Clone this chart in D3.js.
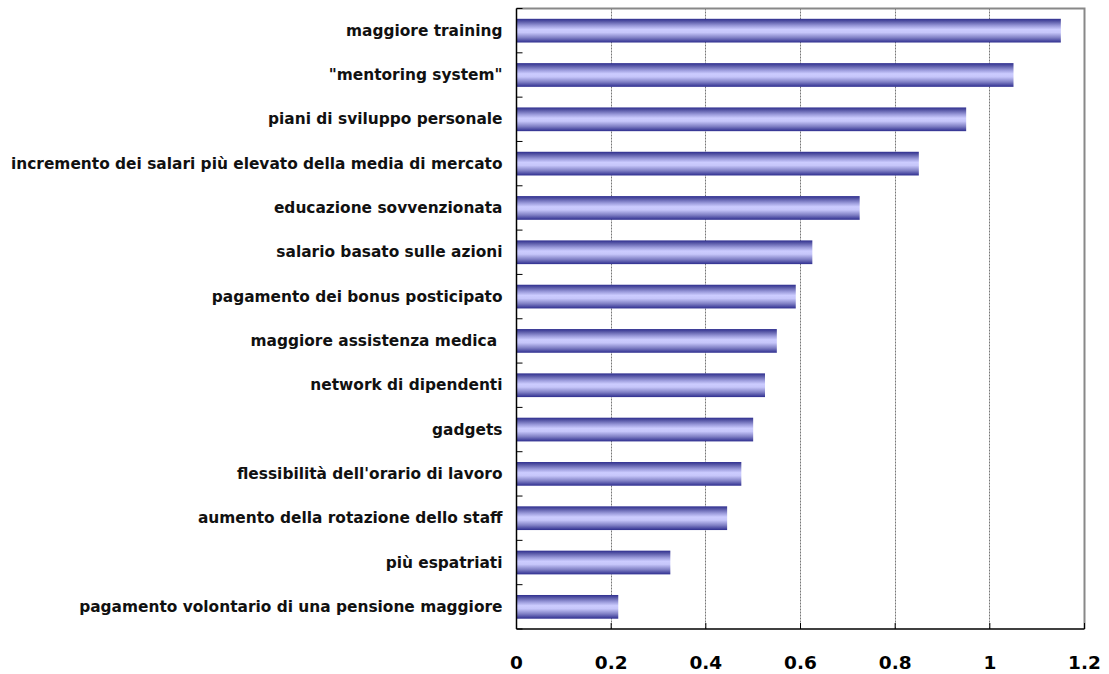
<!DOCTYPE html>
<html>
<head>
<meta charset="utf-8">
<script src="https://cdn.jsdelivr.net/npm/d3@7"></script>
<style>
  body { margin: 0; background: #fff; }
  svg { display: block; }
</style>
</head>
<body>
<svg id="chart" width="1109" height="674"></svg>
<script>
// categories, top to bottom
const categories = [
  "maggiore training",
  "\"mentoring system\"",
  "piani di sviluppo personale",
  "incremento dei salari più elevato della media di mercato",
  "educazione sovvenzionata",
  "salario basato sulle azioni",
  "pagamento dei bonus posticipato",
  "maggiore assistenza medica ",
  "network di dipendenti",
  "gadgets",
  "flessibilità dell'orario di lavoro",
  "aumento della rotazione dello staff",
  "più espatriati",
  "pagamento volontario di una pensione maggiore"
]
const values = [1.15, 1.05, 0.95, 0.85, 0.725, 0.625, 0.59, 0.55, 0.525, 0.5, 0.475, 0.445, 0.325, 0.215]
const xTicks = [0, 0.2, 0.4, 0.6, 0.8, 1, 1.2]
const xTickLabels = ["0", "0.2", "0.4", "0.6", "0.8", "1", "1.2"]

const svg = d3.select("#chart")
const margin = {top: 8.5, right: 24.5, bottom: 45, left: 516.5}
const W = 1109 - margin.left - margin.right
const H = 674 - margin.top - margin.bottom

const x = d3.scaleLinear().domain([0, 1.2]).range([0, W])
const y = d3.scaleBand().domain(categories).range([0, H]).paddingInner(0.465).paddingOuter(0.2325)

// bar gradient (dark edges, light middle)
const grad = svg.append("defs")
  .append("linearGradient")
    .attr("id", "barGrad")
    .attr("x1", 0).attr("y1", 0).attr("x2", 0).attr("y2", 1)
grad.selectAll("stop")
  .data([
    [0, "#2e2e8f"], [0.12, "#5a5aa8"], [0.3, "#9c9cdc"],
    [0.45, "#ccccff"], [0.58, "#c6c6fa"], [0.8, "#7f7fc4"], [1, "#2e2e8f"]
  ])
  .enter().append("stop")
    .attr("offset", d => d[0])
    .attr("stop-color", d => d[1])

const g = svg.append("g").attr("transform", `translate(${margin.left},${margin.top})`)

// dashed gridlines
g.append("g")
  .selectAll("line")
  .data(xTicks.filter(d => d > 0 && d < 1.2))
  .enter().append("line")
    .attr("x1", d => Math.round(x(d)))
    .attr("x2", d => Math.round(x(d)))
    .attr("y1", 0).attr("y2", H)
    .attr("stroke", "#777")
    .attr("stroke-width", 1)
    .attr("stroke-dasharray", "2,1")

// frame: grey top and right
g.append("path")
  .attr("d", `M0,0H${W}V${H}`)
  .attr("fill", "none")
  .attr("stroke", "#888")
  .attr("stroke-width", 2)

// bars
g.append("g")
  .selectAll("rect")
  .data(values)
  .enter().append("rect")
    .attr("x", 0)
    .attr("y", (d, i) => y(categories[i]))
    .attr("width", d => x(d))
    .attr("height", y.bandwidth())
    .attr("fill", "url(#barGrad)")

// y axis with inward ticks at band boundaries
const yAxis = g.append("g")
yAxis.append("line")
  .attr("x1", 0).attr("x2", 0).attr("y1", 0).attr("y2", H)
  .attr("stroke", "#000").attr("stroke-width", 1.5)
yAxis.selectAll(".tick")
  .data(d3.range(categories.length + 1))
  .enter().append("line")
    .attr("x1", 0).attr("x2", 6)
    .attr("y1", i => i * y.step())
    .attr("y2", i => i * y.step())
    .attr("stroke", "#000")
yAxis.selectAll("text")
  .data(categories)
  .enter().append("text")
    .attr("x", -14)
    .attr("y", d => y(d) + y.bandwidth() / 2)
    .attr("dy", "0.33em")
    .attr("text-anchor", "end")
    .attr("font-family", "DejaVu Sans, Verdana, sans-serif")
    .attr("font-size", 15.4)
    .attr("font-weight", "bold")
    .attr("fill", "#111")
    .style("white-space", "pre")
    .text(d => d)

// x axis
const xAxis = g.append("g").attr("transform", `translate(0,${H})`)
xAxis.append("line")
  .attr("x1", 0).attr("x2", W)
  .attr("stroke", "#000").attr("stroke-width", 1.5)
xAxis.selectAll(".tick")
  .data(xTicks)
  .enter().append("line")
    .attr("x1", d => x(d)).attr("x2", d => x(d))
    .attr("y1", 0).attr("y2", -6)
    .attr("stroke", "#000")
xAxis.selectAll("text")
  .data(xTicks)
  .enter().append("text")
    .attr("x", d => x(d))
    .attr("y", 40)
    .attr("text-anchor", "middle")
    .attr("font-family", "DejaVu Sans, Verdana, sans-serif")
    .attr("font-size", 18.5)
    .attr("font-weight", "bold")
    .attr("fill", "#000")
    .text((d, i) => xTickLabels[i])
</script>
</body>
</html>
